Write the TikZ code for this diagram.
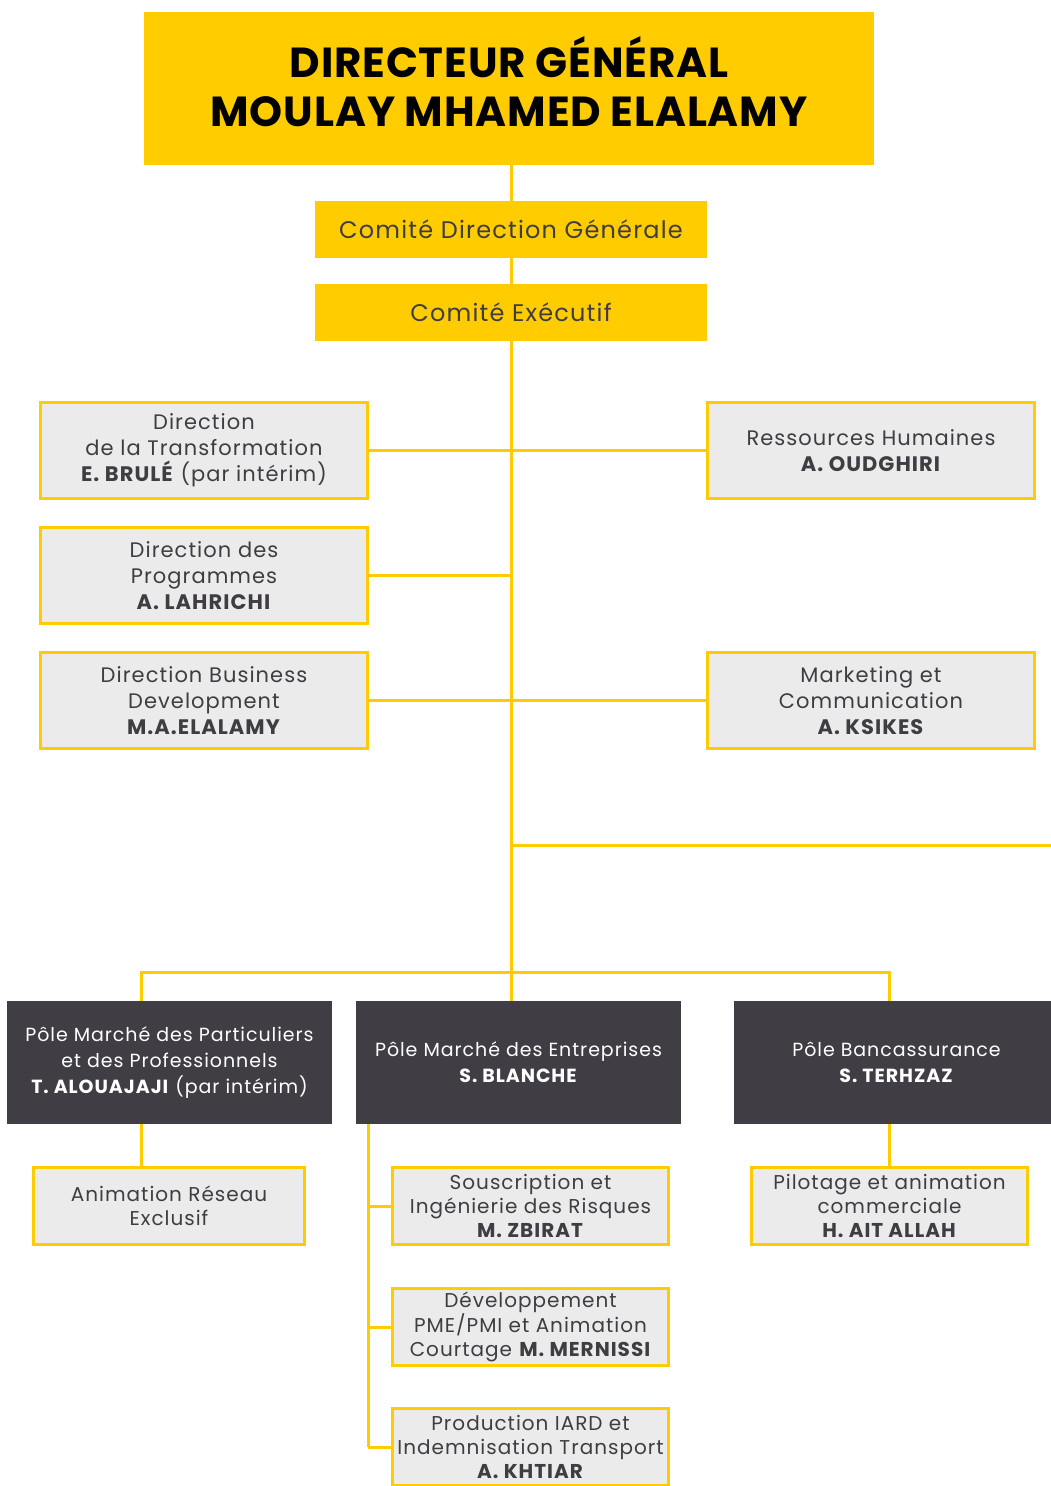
\documentclass[tikz,border=0pt]{standalone}
\usepackage{fontspec}
\setmainfont{Poppins}[LetterSpace=5]
\newfontfamily\titrefont{Poppins}[LetterSpace=2]
\usetikzlibrary{positioning}

\definecolor{jaune}{HTML}{FFCC00}
\definecolor{gristxt}{HTML}{3F3D42}
\definecolor{grisfond}{HTML}{EBEBEB}
\definecolor{anthracite}{HTML}{403E44}

\tikzset{
  titre/.style={fill=jaune, minimum width=730pt, minimum height=153pt,
    align=center, text depth=14pt, font=\titrefont\fontsize{42}{49}\selectfont\bfseries},
  comite/.style={fill=jaune, text=gristxt, minimum width=392pt,
    minimum height=57pt, font=\fontsize{24}{28}\selectfont},
  direction/.style={draw=jaune, line width=3pt, fill=grisfond, text=gristxt,
    minimum width=327pt, minimum height=96pt, inner sep=0pt, align=center,
    font=\fontsize{21}{26}\selectfont},
  pole/.style={fill=anthracite, text=white, minimum width=325pt,
    minimum height=123pt, inner sep=0pt, align=center,
    font=\fontsize{19}{26}\selectfont},
  service/.style={draw=jaune, line width=3pt, fill=grisfond, text=gristxt,
    minimum width=276pt, minimum height=77pt, inner sep=0pt, align=center,
    font=\fontsize{20}{24}\selectfont},
  lien/.style={draw=jaune, line width=3pt}
}

\begin{document}
\begin{tikzpicture}[x=1pt, y=-1pt, node distance=125pt, on grid]
\useasboundingbox (0,0) rectangle (1051,1486);

% Direction generale
\node (dg) [titre] at (509,88.5) {DIRECTEUR GÉNÉRAL\\MOULAY MHAMED ELALAMY};
\node (cdg) [comite] at (511,229.5) {Comité Direction Générale};
\node (cex) [comite, below=83pt of cdg] {Comité Exécutif};

% Directions
\node (trans) [direction] at (204,450.5)
    {Direction\\de la Transformation\\\textbf{E. BRULÉ} (par intérim)};
\node (prog) [direction, below=of trans]
    {Direction des\\Programmes\\\textbf{A. LAHRICHI}};
\node (busi) [direction, below=of prog]
    {Direction Business\\Development\\\textbf{M.A.ELALAMY}};
\node (rh) [direction] at (871,450.5)
    {Ressources Humaines\\\textbf{A. OUDGHIRI}};
\node (mkt) [direction, below=250pt of rh]
    {Marketing et\\Communication\\\textbf{A. KSIKES}};

% Poles
\node (ppart) [pole] at (169.5,1062.5)
    {Pôle Marché des Particuliers\\et des Professionnels\\\textbf{T. ALOUAJAJI} (par intérim)};
\node (pent) [pole] at (518.5,1062.5)
    {Pôle Marché des Entreprises\\\textbf{S. BLANCHE}};
\node (pban) [pole] at (896.5,1062.5)
    {Pôle Bancassurance\\\textbf{S. TERHZAZ}};

% Services
\node (anim) [service, minimum width=271pt] at (169,1205.5)
    {Animation Réseau\\Exclusif};
\node (sousc) [service] at (530.5,1206)
    {Souscription et\\Ingénierie des Risques\\\textbf{M. ZBIRAT}};
\node (pme) [service, below=121pt of sousc]
    {Développement\\PME/PMI et Animation\\Courtage \textbf{M. MERNISSI}};
\node (iard) [service, below=120pt of pme]
    {Production IARD et\\Indemnisation Transport\\\textbf{A. KHTIAR}};
\node (pil) [service] at (889.5,1206)
    {Pilotage et animation\\commerciale\\\textbf{H. AIT ALLAH}};

% Points de jonction
\coordinate (axe) at (511,1001);
\coordinate (sortie) at (1051,845);
\coordinate (gauche) at (141,972);
\coordinate (droite) at (889,972);
\coordinate (tronc) at (368,1124);

% Liens
\path [lien]
    (cdg.north |- dg.south) -- (cdg.north)
    (cdg.south) -- (cex.north)
    (cex.south) -- (axe)
    (trans.east) -- (rh.west)
    (prog.east) -- (prog.east -| axe)
    (busi.east) -- (mkt.west)
    (sortie -| axe) -- (sortie)
    (gauche |- ppart.north) -- (gauche) -- (droite) -- (droite |- pban.north)
    (gauche |- ppart.south) -- (gauche |- anim.north)
    (droite |- pban.south) -- (droite |- pil.north)
    (tronc) -- (tronc |- iard.west)
    (tronc |- sousc.west) -- (sousc.west)
    (tronc |- pme.west) -- (pme.west)
    (tronc |- iard.west) -- (iard.west);
\end{tikzpicture}
\end{document}
